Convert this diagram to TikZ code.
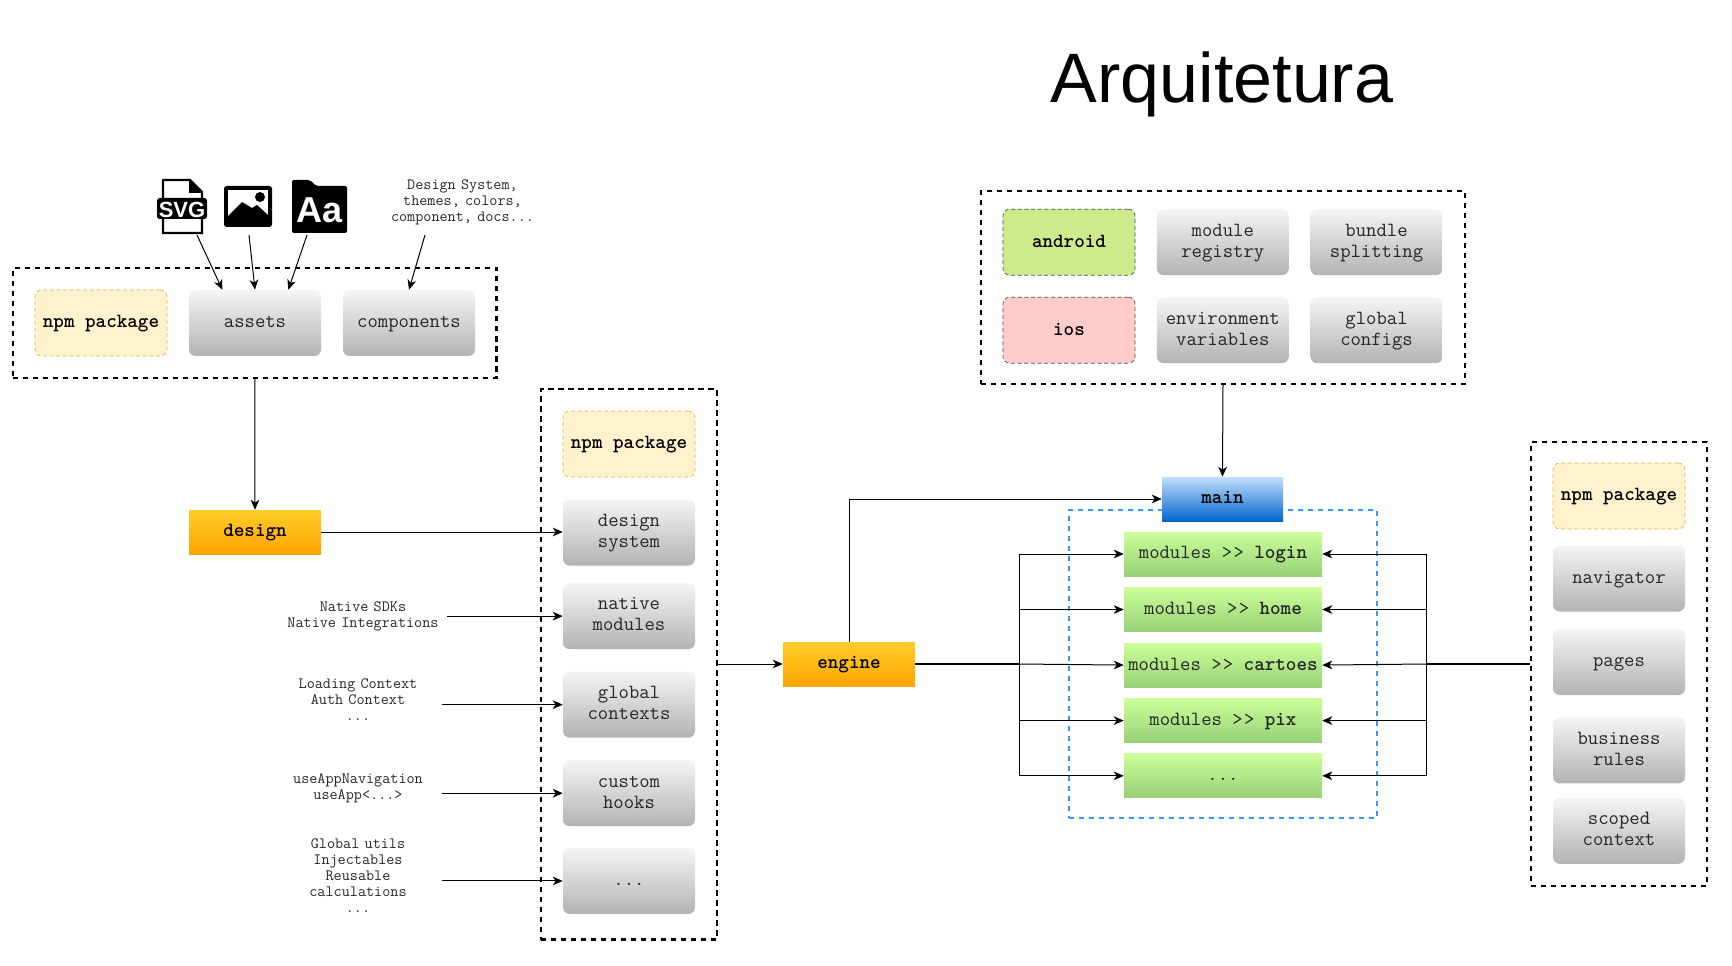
\documentclass[tikz,border=0pt]{standalone}
\usepackage{fontspec}
\setsansfont{Liberation Sans}
\newcommand{\boxfont}{\ttfamily\fontsize{15.1}{15.75}\selectfont}
\newcommand{\boldfont}{\ttfamily\bfseries\fontsize{15.1}{15.75}\selectfont}
\usetikzlibrary{arrows.meta,positioning,fit,calc}

\begin{document}
\begin{tikzpicture}[
  x=.75pt, y=-.75pt,
  font=\boxfont, node distance=16.5pt,
  box/.style={rounded corners=5pt, align=center, minimum width=99pt, minimum height=49.5pt,
              inner sep=1pt, top color=gray!8, bottom color=black!30, text=black!85,
              text height=10pt, text depth=2.6pt},
  boxtwo/.style={box, text height=25.75pt, text depth=3.5pt},
  npm/.style={box, top color=npmfill, bottom color=npmfill, draw=npmline, densely dashed,
              line width=.5pt, text=black, font=\boldfont},
  plat/.style={npm, draw=black!70},
  pkg/.style={align=center, minimum width=99pt, minimum height=33pt, inner sep=0pt,
              top color=pkgtop, bottom color=pkgbot, font=\boldfont,
              text height=10pt, text depth=2.6pt},
  modbox/.style={align=center, minimum width=148.5pt, minimum height=33pt, inner sep=0pt,
                 top color=modtop, bottom color=modbot, text=black!85,
                 text height=10pt, text depth=2.6pt},
  note/.style={align=center, text width=126pt, inner sep=0pt,
               font=\ttfamily\fontsize{11.8}{12}\selectfont, text=black!85},
  arr/.style={-{Stealth[length=7.5pt,width=6.5pt,inset=2.2pt]}, line width=.75pt},
  grp/.style={draw, line width=1.7pt, dash pattern=on 4pt off 3.5pt, inner sep=0pt},
]
\definecolor{npmfill}{HTML}{FFF2CC}
\definecolor{npmline}{HTML}{D6B656}
\definecolor{pkgtop}{HTML}{FFCD28}
\definecolor{pkgbot}{HTML}{FFA500}
\definecolor{modtop}{HTML}{CCFF99}
\definecolor{modbot}{HTML}{97D077}
\definecolor{maintop}{HTML}{C4DFFB}
\definecolor{mainbot}{HTML}{0066CC}
\definecolor{grpblue}{HTML}{3399FF}
\definecolor{androidfill}{HTML}{CDEB8B}
\definecolor{iosfill}{HTML}{FFCCCC}
\useasboundingbox (0,0) rectangle (1732,966);
\node[anchor=base, font=\sffamily\fontsize{52.5}{60}\selectfont] (title) at (1222,103) {Arquitetura};
% ---------------- design system -----------------
\node[grp, fit={(13,268) (496.5,378)}] (grpa) {};
\node[npm] (npma) at (101,323) {npm package};
\node[box] (assets) at (255,323) {assets};
\node[box] (comps) at (409,323) {components};
\node[pkg] (design) at (255,532) {design};
% icons
\fill[white] (163,180) -- (190,180) -- (202,192) -- (202,233) -- (163,233) -- cycle;
\draw[line width=1.6pt] (163,180) -- (190,180) -- (202,192) -- (202,233) -- (163,233) -- cycle;
\fill (189,180) -- (189,193) -- (202,193) -- cycle;
\fill[rounded corners=2pt] (157,198) rectangle (207,219);
\node[text=white, inner sep=0pt, font=\sffamily\bfseries\fontsize{16.5}{17}\selectfont] (svgtxt) at (182,209.5) {SVG};
\fill[rounded corners=2pt] (224,186) rectangle (272,227);
\fill[white] (228,190) rectangle (268,219);
\fill (228,216) -- (242,202) -- (252,208) -- (257,205) -- (268,215) -- (268,220) -- (228,220) -- cycle;
\fill (260,197) circle (5);
\fill[rounded corners=1.5pt] (292,233) -- (292,180) -- (310,180) -- (316,186) -- (347,186) -- (347,233) -- cycle;
\node[text=white, inner sep=0pt, font=\sffamily\bfseries\fontsize{27}{28}\selectfont] (aatxt) at (320,210) {Aa};
\node[note, text width=150pt] (dsnote) at (462.5,202) {Design System,\\themes, colors,\\component, docs...};
\coordinate (svgend) at (197,235);
\coordinate (imgend) at (249,235);
\coordinate (fontend) at (307,235);
\coordinate (noteend) at (425,235);
\draw[arr] (svgend) -- ([xshift=-24.5pt]assets.north);
\draw[arr] (imgend) -- (assets.north);
\draw[arr] (fontend) -- ([xshift=25pt]assets.north);
\draw[arr] (noteend) -- (comps.north);
\draw[arr] (grpa.south) -- (design.north);
% ---------------- engine -----------------
\node[grp, fit={(541,389) (717,939.5)}] (grpb) {};
\node[npm] (npmb) at (629,444) {npm package};
\node[boxtwo, below=of npmb] (dsys) {design\\system};
\node[boxtwo, below=12.75pt of dsys] (native) {native\\modules};
\node[boxtwo, below=of native] (ctx) {global\\contexts};
\node[boxtwo, below=of ctx] (hooks) {custom\\hooks};
\node[box, below=15.9pt of hooks] (dots) {...};
\node[note] (natnote) at (363,616) {Native SDKs\\Native Integrations};
\node[note] (ctxnote) at (358,700) {Loading Context\\Auth Context\\...};
\node[note] (hooknote) at (358,788) {useAppNavigation\\useApp<...>};
\node[note] (utilnote) at (358,876) {Global utils\\Injectables\\Reusable\\calculations\\...};
\node[pkg] (engine) at (849,664) {engine};
\draw[arr] (design) -- (dsys.west |- design);
\draw[arr] (natnote.east |- native.west) -- (native.west);
\draw[arr] (ctxnote.east |- ctx.west) -- (ctx.west);
\draw[arr] (hooknote.east |- hooks.west) -- (hooks.west);
\draw[arr] (utilnote.east |- dots.west) -- (dots.west);
\draw[arr] (grpb.east |- engine.west) -- (engine.west);
% ---------------- main -----------------
\node[grp, draw=grpblue, fit={(1069,510) (1377,818)}] (grpm) {};
\node[pkg, minimum width=90.75pt, top color=maintop, bottom color=mainbot] (main) at (1222.5,499) {main};
\node[modbox] (login) at (1223,554) {modules >\kern1pt> \textbf{login}};
\node[modbox, below=8.25pt of login] (home) {modules >\kern1pt> \textbf{home}};
\node[modbox, below=8.25pt of home] (cart) {modules >\kern1pt> \textbf{cartoes}};
\node[modbox, below=8.25pt of cart] (pix) {modules >\kern1pt> \textbf{pix}};
\node[modbox, below=8pt of pix] (more) {...};
\node[grp, fit={(981,191) (1465,384)}] (grpc) {};
\node[plat, top color=androidfill, bottom color=androidfill] (android) at (1069,242.2) {android};
\node[boxtwo, right=15.9pt of android] (registry) {module\\registry};
\node[boxtwo, right=15.9pt of registry] (bundle) {bundle\\splitting};
\node[plat, top color=iosfill, bottom color=iosfill] (ios) at (1069,330.2) {ios};
\node[boxtwo, right=15.9pt of ios] (envs) {environment\\variables};
\node[boxtwo, right=15.9pt of envs] (configs) {global\\configs};
\draw[arr] (grpc.south) -- (main.north);
\draw[arr] (engine.north) |- (main.west);
\coordinate (busl) at (1019,664);
\draw[line width=1.2pt] (engine.east) -- (busl);
\draw[arr] (busl) -- (cart.west);
\draw[arr] (busl) |- (login.west);
\draw[arr] (busl) |- (home.west);
\draw[arr] (busl) |- (pix.west);
\draw[arr] (busl) |- (more.west);
% ---------------- modules -----------------
\node[grp, fit={(1531,442) (1707,886)}] (grpd) {};
\node[npm] (npmd) at (1619,496) {npm package};
\node[box, below=11.95pt of npmd] (nav) {navigator};
\node[box, below=12.7pt of nav] (pages) {pages};
\node[boxtwo, below=16.45pt of pages] (rules) {business\\rules};
\node[boxtwo, below=10.35pt of rules] (scoped) {scoped\\context};
\coordinate (busr) at (1426,664);
\draw[line width=1.2pt] (grpd.west) -- (busr);
\draw[arr] (busr) -- (cart.east);
\draw[arr] (busr) |- (login.east);
\draw[arr] (busr) |- (home.east);
\draw[arr] (busr) |- (pix.east);
\draw[arr] (busr) |- (more.east);
\end{tikzpicture}
\end{document}
